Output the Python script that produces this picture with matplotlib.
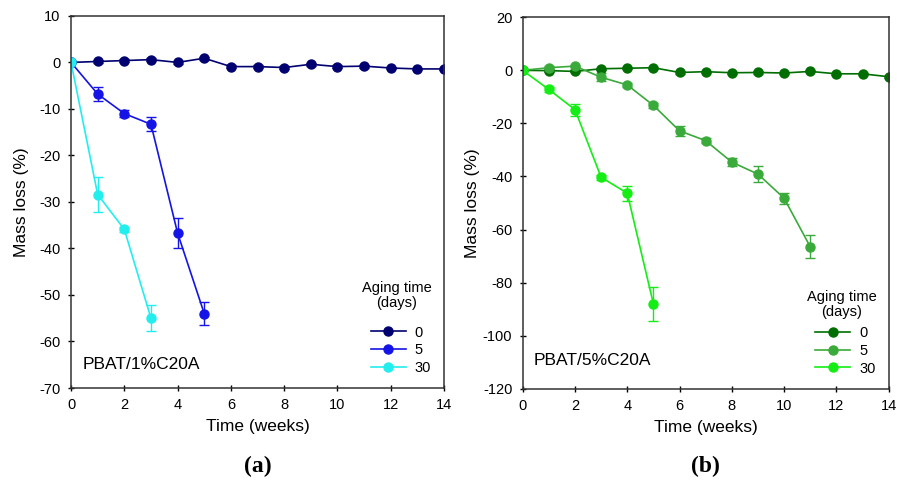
import numpy as np
import matplotlib.pyplot as plt
from matplotlib.lines import Line2D

plt.rcParams['font.family'] = ['Liberation Sans', 'DejaVu Sans']
plt.rcParams['axes.unicode_minus'] = False

# PBAT/1%C20A
weeks_a0 = np.arange(0, 15)
loss_a0 = [0, 0.2, 0.4, 0.6, 0.0, 0.9, -0.9, -0.9, -1.1, -0.4, -0.9, -0.8, -1.2, -1.4, -1.4]
err_a0 = [0, 0.3, 0.3, 0.3, 0.3, 0.3, 0.3, 0.3, 0.3, 0.3, 0.3, 0.3, 0.3, 0.3, 0.3]
weeks_a5 = np.arange(0, 6)
loss_a5 = [0, -6.8, -11.0, -13.3, -36.7, -54.0]
err_a5 = [0, 1.5, 0.7, 1.5, 3.3, 2.4]
weeks_a30 = np.arange(0, 4)
loss_a30 = [0, -28.4, -35.9, -55.0]
err_a30 = [0, 3.8, 0.5, 2.8]

# PBAT/5%C20A
weeks_b0 = np.arange(0, 15)
loss_b0 = [0, -0.1, -0.4, 0.6, 0.8, 1.0, -0.8, -0.5, -0.9, -0.8, -1.0, -0.4, -1.3, -1.3, -2.4]
err_b0 = [0, 0.4, 0.4, 0.4, 0.4, 0.4, 0.4, 0.4, 0.4, 0.4, 0.4, 0.4, 0.4, 0.4, 0.4]
weeks_b5 = np.arange(0, 12)
loss_b5 = [0, 1.0, 1.6, -2.6, -5.5, -13.2, -22.8, -26.5, -34.6, -39.1, -48.2, -66.5]
err_b5 = [0, 0.5, 0.5, 1.5, 0.8, 1.0, 2.0, 1.0, 1.5, 3.0, 2.0, 4.3]
weeks_b30 = np.arange(0, 6)
loss_b30 = [0, -7.2, -14.8, -40.3, -46.3, -88.0]
err_b30 = [0, 0.8, 2.3, 1.0, 2.8, 6.5]

aging = ['0', '5', '30']
colors_a = ['#000070', '#1414e6', '#22eeee']
colors_b = ['#006e00', '#3aaa3a', '#14ee14']

fig = plt.figure(figsize=(8.97, 4.82), dpi=100)
ax1 = fig.add_axes([0.0792, 0.195, 0.4158, 0.772])
ax2 = fig.add_axes([0.5827, 0.1936, 0.408, 0.7705])


def draw(ax, series, colors, ylim, yticks, note, tag, note_y, leg_x, title_y, ylpad):
    for (x, y, e), c in zip(series, colors):
        ax.errorbar(x, y, yerr=e, color=c, marker='o', markersize=6.5, lw=1.2,
                    capsize=3.5, elinewidth=1.0, capthick=1.0)
    ax.set_xlim(0, 14)
    ax.set_ylim(*ylim)
    ax.set_xticks(range(0, 15, 2))
    ax.set_yticks(yticks)
    ax.tick_params(direction='inout', length=5, width=1, labelsize=10.5, pad=5)
    for s in ax.spines.values():
        s.set_color('#333333')
        s.set_linewidth(1.1)
    ax.set_xlabel('Time (weeks)', fontsize=12.5, labelpad=5)
    ax.set_ylabel('Mass loss (%)', fontsize=12.5, labelpad=ylpad)
    ax.text(0.031, note_y, note, transform=ax.transAxes, fontsize=12.5)
    ax.text(0.5, -0.21, tag, transform=ax.transAxes, ha='center', va='center',
            fontsize=17, fontweight='bold', family='Liberation Serif')
    # legend: title as separate text, plain line+marker handles
    ax.text(leg_x, title_y, 'Aging time\n(days)', transform=ax.transAxes,
            ha='center', va='top', fontsize=10.5, linespacing=1.1)
    handles = [Line2D([], [], color=c, marker='o', markersize=6.5, lw=1.2)
               for c in colors]
    ax.legend(handles, aging, loc='lower right', frameon=False, fontsize=10.5,
              handlelength=2.4, handletextpad=0.6, labelspacing=0.25,
              borderaxespad=0.5)


draw(ax1, [(weeks_a0, loss_a0, err_a0), (weeks_a5, loss_a5, err_a5),
           (weeks_a30, loss_a30, err_a30)],
     colors_a, (-70, 10), range(-70, 11, 10), 'PBAT/1%C20A', '(a)', 0.05,
     0.873, 0.288, 7.5)
draw(ax2, [(weeks_b0, loss_b0, err_b0), (weeks_b5, loss_b5, err_b5),
           (weeks_b30, loss_b30, err_b30)],
     colors_b, (-120, 20), range(-120, 21, 20), 'PBAT/5%C20A', '(b)', 0.064,
     0.872, 0.265, 2)

fig.savefig('out.png', dpi=100)
